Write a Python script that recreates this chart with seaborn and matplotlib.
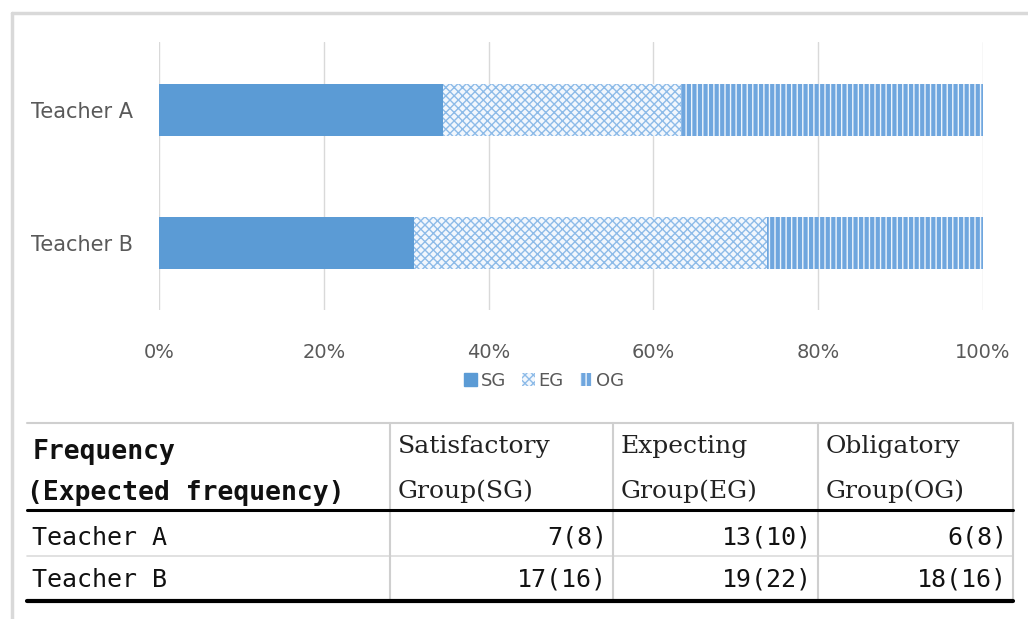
import matplotlib
matplotlib.use("Agg")
import matplotlib.pyplot as plt
import seaborn as sns
import pandas as pd
import numpy as np
from matplotlib.patches import Patch

# chart data (share of each group)
teachers = ["Teacher A", "Teacher B"]
groups = ["SG", "EG", "OG"]
sg_pct = [34.5, 30.9]
eg_pct = [28.8, 42.9]
og_pct = [36.7, 26.2]

# table data
col_headers = [["Satisfactory", "Group(SG)"], ["Expecting", "Group(EG)"], ["Obligatory", "Group(OG)"]]
row_header = ["Frequency", "(Expected frequency)"]
cells = [["7(8)", "13(10)", "6(8)"], ["17(16)", "19(22)", "18(16)"]]

sns.set_theme(style="white")
plt.rcParams["font.family"] = ["DejaVu Sans"]
plt.rcParams["hatch.linewidth"] = 1.0

W, H = 1028, 619
fig = plt.figure(figsize=(W / 100, H / 100), dpi=100)

# background overlay for frame + table (pixel coordinates)
bg = fig.add_axes([0, 0, 1, 1])
bg.set_xlim(0, W)
bg.set_ylim(H, 0)
bg.axis("off")
bg.plot([12, W], [13, 13], color="#d9d9d9", lw=2.5)
bg.plot([12, 12], [13, H], color="#d9d9d9", lw=2.5)

# stacked bars: draw cumulative totals, largest first
df = pd.DataFrame({"teacher": teachers, "SG": sg_pct, "EG": eg_pct, "OG": og_pct})
df["cum_SG"] = df["SG"]
df["cum_EG"] = df["SG"] + df["EG"]
df["cum_OG"] = df["SG"] + df["EG"] + df["OG"]

ax = fig.add_axes([159 / W, 1 - 310 / H, (983 - 159) / W, (310 - 42) / H])
ax.patch.set_alpha(0)
blue = "#5b9bd5"
styles = {
    "OG": dict(color="#6fa6de", edgecolor="#eef5fc", hatch="|||"),
    "EG": dict(color="#f2f7fd", edgecolor="#8dbbe8", hatch="xxxx"),
    "SG": dict(color=blue, edgecolor=blue, hatch=None),
}
for g in ["OG", "EG", "SG"]:
    n0 = len(ax.patches)
    sns.barplot(data=df, x="cum_" + g, y="teacher", orient="h", width=0.39,
                color=styles[g]["color"], ax=ax, zorder=2)
    for p in ax.patches[n0:]:
        p.set_facecolor(styles[g]["color"])
        p.set_edgecolor(styles[g]["edgecolor"])
        p.set_linewidth(0)
        if styles[g]["hatch"]:
            p.set_hatch(styles[g]["hatch"])

ax.set_xlim(0, 100)
ax.set_ylim(1.5, -0.51)
ax.set_xticks(np.arange(0, 101, 20))
ax.set_xticklabels([f"{v}%" for v in range(0, 101, 20)])
ax.xaxis.grid(True, color="#d9d9d9", lw=1)
ax.set_axisbelow(True)
for s in ax.spines.values():
    s.set_visible(False)
ax.set_xlabel("")
ax.set_ylabel("")
ax.tick_params(axis="x", pad=24, labelsize=14, labelcolor="#595959", length=0)
ax.tick_params(axis="y", pad=19, labelsize=15, labelcolor="#595959", length=0)

# legend
handles = [Patch(facecolor=blue, edgecolor=blue),
           Patch(facecolor=styles["EG"]["color"], edgecolor=styles["EG"]["edgecolor"], hatch="xxxx", lw=0),
           Patch(facecolor=styles["OG"]["color"], edgecolor=styles["OG"]["edgecolor"], hatch="|||", lw=0)]
fig.legend(handles, groups, loc="center", bbox_to_anchor=(544 / W, 1 - 381 / H),
           ncol=3, frameon=False, fontsize=13, handlelength=0.7, handleheight=0.7,
           handletextpad=0.2, columnspacing=0.9, labelcolor="#595959")

# table lines
x0, x1 = 27, 1013
col_x = [390, 613, 818, 1013]
bg.plot([x0, x1], [423, 423], color="#cfcfcf", lw=1.5)
bg.plot([x0, x1], [556, 556], color="#dcdcdc", lw=1.2)
for cx in col_x:
    bg.plot([cx, cx], [423, 601], color="#cfcfcf", lw=1.5)
bg.plot([x0, x1], [510, 510], color="black", lw=2.2)
bg.plot([x0, x1], [601, 601], color="black", lw=3)

gothic = ["DejaVu Sans Mono"]
serif = ["DejaVu Serif"]
bg.text(33, 452, row_header[0], family=gothic, fontweight="bold", fontsize=19, va="center", color="#111111")
bg.text(27, 493, row_header[1], family=gothic, fontweight="bold", fontsize=19, va="center", color="#111111")
for i, (l1, l2) in enumerate(col_headers):
    bx = col_x[i] + 8
    bg.text(bx, 447, l1, family=serif, fontsize=18, va="center", color="#222222")
    bg.text(bx, 491, l2, family=serif, fontsize=18, va="center", color="#222222")
for r, t in enumerate(teachers):
    y = [538, 580][r]
    bg.text(32, y, t, family=gothic, fontsize=18, va="center", color="#111111")
    for c in range(3):
        bg.text(col_x[c + 1] - 6, y, cells[r][c], family=gothic, fontsize=18, va="center",
                ha="right", color="#111111")

fig.savefig("out.png", dpi=100)
